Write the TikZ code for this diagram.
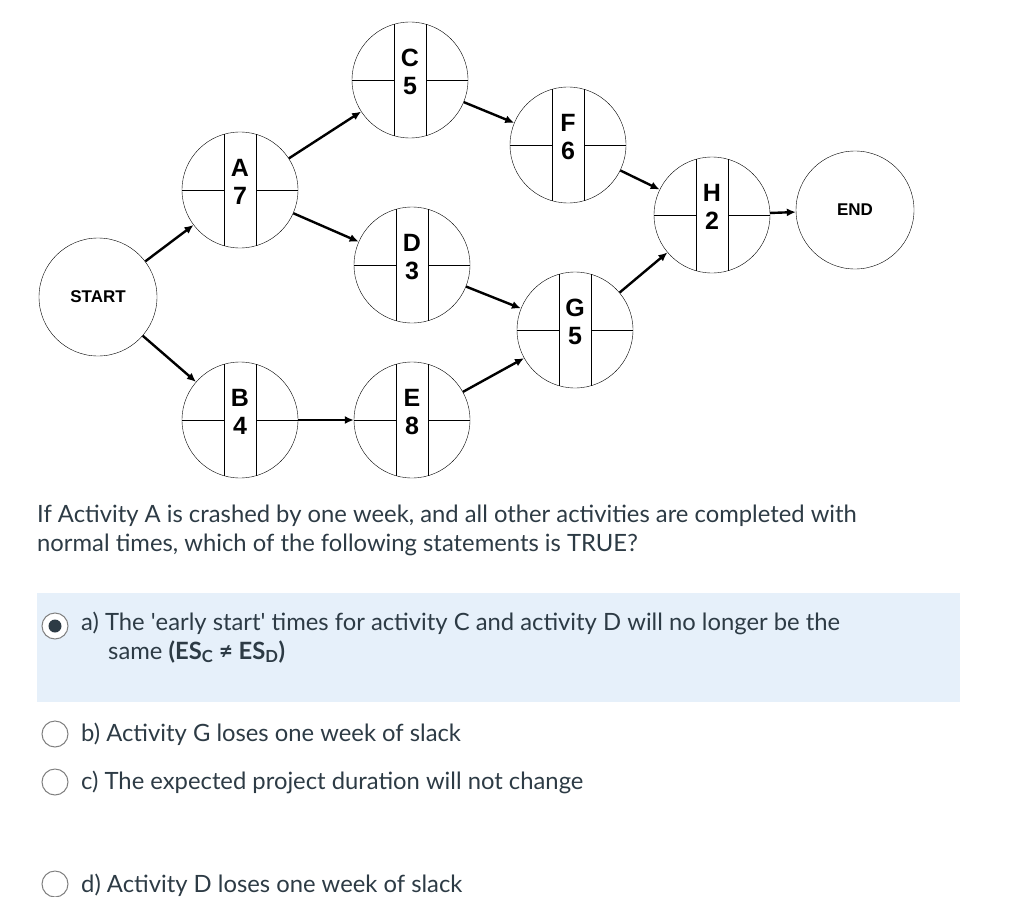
\documentclass[tikz,border=0pt]{standalone}
\usepackage{fontspec}
\setmainfont{Lato}
\newfontfamily\arialb{Liberation Sans}
\usetikzlibrary{arrows.meta}
\definecolor{txt}{HTML}{2D3B45}
\definecolor{sel}{HTML}{E6F0FA}
\tikzset{
  act/.style={circle,draw,minimum size=116pt,inner sep=0pt},
  term/.style={circle,draw,minimum size=118pt,inner sep=0pt,font=\arialb\bfseries\fontsize{17}{19}\selectfont},
  lab/.style={font=\arialb\bfseries\fontsize{25}{27}\selectfont,inner sep=0pt},
  arr/.style={line width=2.4pt,-{Latex[length=9pt,width=8pt]}},
  q/.style={anchor=west,text=txt,font=\fontsize{23.8}{28.5}\selectfont,inner sep=0pt},
  radio/.style={circle,draw=gray,line width=1pt,fill=white,minimum size=26pt,inner sep=0pt}
}
\newcommand{\actnode}[4]{%
  \node[act] (#1) at (#2) {};
  \draw ([xshift=-16pt]#1.center) ++(0,55.7pt) -- ++(0,-111.4pt);
  \draw ([xshift=16pt]#1.center) ++(0,55.7pt) -- ++(0,-111.4pt);
  \draw (#1.west) -- ([xshift=-16pt]#1.center);
  \draw (#1.east) -- ([xshift=16pt]#1.center);
  \node[lab] at ([yshift=22pt]#1.center) {#3};
  \node[lab] at ([yshift=-6pt]#1.center) {#4};
}
\begin{document}
\begin{tikzpicture}[x=1pt,y=-1pt]
\useasboundingbox (0,0) rectangle (1024,896);
\actnode{A}{240,190}{A}{7}
\actnode{C}{410,80}{C}{5}
\actnode{F}{568,145}{F}{6}
\actnode{H}{712,215}{H}{2}
\actnode{D}{412,265}{D}{3}
\actnode{G}{575,330}{G}{5}
\actnode{B}{240,420}{B}{4}
\actnode{E}{412,420}{E}{8}
\node[term] (S) at (98,297) {START};
\node[term] (N) at (855,210) {END};
\draw[arr] (S) -- (A);
\draw[arr] (S) -- (B);
\draw[arr] (A) -- (C);
\draw[arr] (A) -- (D);
\draw[arr] (C) -- (F);
\draw[arr] (F) -- (H);
\draw[arr] (D) -- (G);
\draw[arr] (G) -- (H);
\draw[arr] (B) -- (E);
\draw[arr] (E) -- (G);
\draw[arr] (H) -- (N);
\node[q,anchor=north west,align=left] (Q) at (37,505) {If Activity A is crashed by one week, and all other activities are completed with\\normal times, which of the following statements is TRUE?};
\fill[sel] (37,593) rectangle (960,702);
\node[radio] (r1) at (55,626) {};
\fill[txt] (r1) circle (6.5pt);
\node[radio] (r2) at (55,734) {};
\node[radio] (r3) at (55,782) {};
\node[radio] (r4) at (55,884) {};
\node[q,anchor=north west,align=left] (t1) at (81,612) {a) The \textquotesingle early start\textquotesingle{} times for activity C and activity D will no longer be the\\\hspace*{27pt}same \textbf{(ES\textsubscript{C} ≠ ES\textsubscript{D})}};
\node[q] (t2) at (81,734) {b) Activity G loses one week of slack};
\node[q] (t3) at (81,782) {c) The expected project duration will not change};
\node[q] (t4) at (81,885) {d) Activity D loses one week of slack};
\end{tikzpicture}
\end{document}
